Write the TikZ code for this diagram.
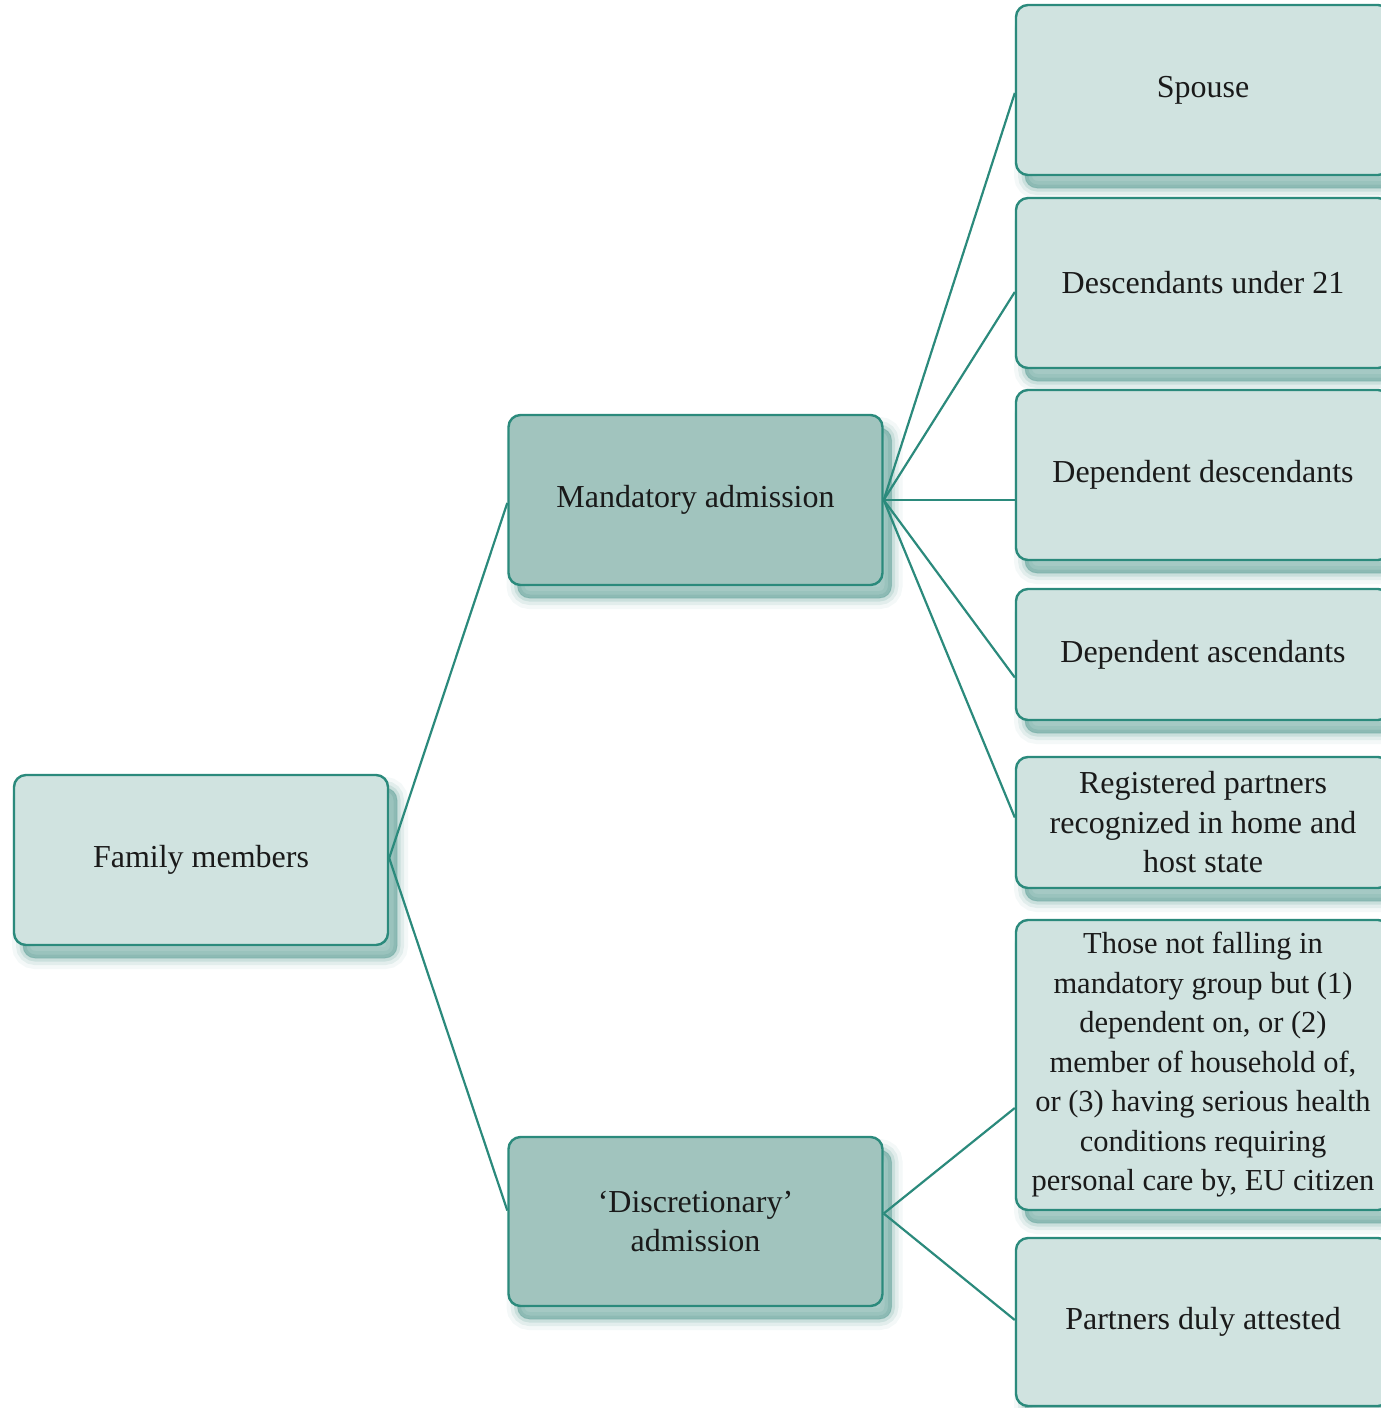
\documentclass[tikz,border=0pt]{standalone}
\usepackage{fontspec}
\setmainfont{Liberation Serif}
\usetikzlibrary{shadows}
\definecolor{lightbox}{HTML}{D0E3E0}
\definecolor{darkbox}{HTML}{A1C4BE}
\definecolor{tealline}{HTML}{2B8A7C}
\definecolor{shc}{HTML}{3F8C82}
\definecolor{txt}{HTML}{1A1A1A}
\tikzset{
  softshadow/.style={
    general shadow={fill=shc, draw=shc, line width=22pt, opacity=0.06, shadow xshift=9pt, shadow yshift=-13pt},
    general shadow={fill=shc, draw=shc, line width=14pt, opacity=0.10, shadow xshift=9pt, shadow yshift=-13pt},
    general shadow={fill=shc, draw=shc, line width=7pt, opacity=0.15, shadow xshift=9pt, shadow yshift=-13pt},
    general shadow={fill=shc, draw=shc, line width=1pt, opacity=0.22, shadow xshift=9pt, shadow yshift=-13pt}
  },
  boxbase/.style={rectangle, rounded corners=12pt, draw=tealline, line width=2.4pt,
    text=txt, align=center, inner sep=0pt, minimum width=374pt,
    font=\fontsize{32}{39.5}\selectfont, softshadow},
  lightnode/.style={boxbase, fill=lightbox},
  darknode/.style={boxbase, fill=darkbox},
  link/.style={draw=tealline, line width=2.2pt}
}
\begin{document}
\begin{tikzpicture}[x=1pt,y=-1pt]
\useasboundingbox (0,0) rectangle (1381,1408);
% left
\node[lightnode, minimum height=170pt] (fam) at (201,860) {Family members};
% middle
\node[darknode, minimum height=170pt] (man) at (695.5,500) {Mandatory admission};
\node[darknode, minimum height=169pt] (dis) at (695.5,1221.5) {`Discretionary'\\admission};
% right
\node[lightnode, minimum height=170pt] (sp) at (1203,90) {Spouse};
\node[lightnode, minimum height=170pt] (du) at (1203,283) {Descendants under 21};
\node[lightnode, minimum height=170pt] (dd) at (1203,475) {Dependent descendants};
\node[lightnode, minimum height=131pt] (da) at (1203,654.5) {Dependent ascendants};
\node[lightnode, minimum height=131pt] (rp) at (1203,822.5) {Registered partners\\recognized in home and\\host state};
\node[lightnode, minimum height=290pt, font=\fontsize{30.5}{39.5}\selectfont] (tn) at (1203,1065) {Those not falling in\\mandatory group but (1)\\dependent on, or (2)\\member of household of,\\or (3) having serious health\\conditions requiring\\personal care by, EU citizen};
\node[lightnode, minimum height=168pt] (pd) at (1203,1322) {Partners duly attested};
% connectors
\draw[link] ([yshift=2pt]fam.east) -- ([yshift=-3pt]man.west);
\draw[link] ([yshift=2pt]fam.east) -- ([yshift=11pt]dis.west);
\draw[link] (man.east) -- ([yshift=-3pt]sp.west);
\draw[link] (man.east) -- ([yshift=-9pt]du.west);
\draw[link] (man.east) -- ([yshift=-25pt]dd.west);
\draw[link] (man.east) -- ([yshift=-23pt]da.west);
\draw[link] (man.east) -- ([yshift=5pt]rp.west);
\draw[link] ([yshift=8pt]dis.east) -- ([yshift=-43pt]tn.west);
\draw[link] ([yshift=8pt]dis.east) -- ([yshift=2pt]pd.west);
\end{tikzpicture}
\end{document}
